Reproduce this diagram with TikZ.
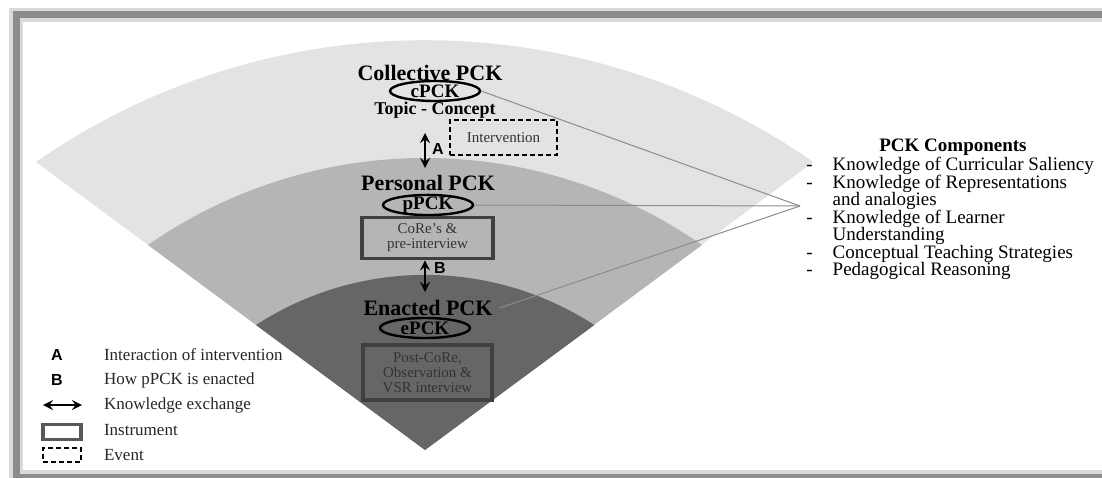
\documentclass[tikz,border=0pt]{standalone}
\usepackage{fontspec}
\setmainfont{Liberation Serif}
\setsansfont{Liberation Sans}
\usetikzlibrary{positioning, calc, arrows.meta, shapes.geometric}

\begin{document}
\begin{tikzpicture}[x=0.5pt, y=0.5pt, >=stealth,
    title/.style={font=\fontsize{11}{12}\selectfont\bfseries},
    kind/.style={ellipse, draw, line width=1.2pt, inner xsep=0pt, inner ysep=-0.6pt,
        minimum width=45pt, minimum height=10pt, font=\fontsize{9.5}{10}\selectfont\bfseries},
    instr/.style={draw=black!75, line width=1.6pt, align=center, text=black!80,
        font=\fontsize{7.5}{7.5}\selectfont},
    event/.style={draw, line width=1.3pt, dash pattern=on 2.5pt off 1.5pt, text=black!80,
        font=\fontsize{7.5}{8}\selectfont},
    xchg/.style={<->, line width=1.2pt},
    conn/.style={black!45, line width=0.5pt},
    tag/.style={font=\sffamily\bfseries\fontsize{8}{9}\selectfont},
    key/.style={anchor=west, text=black!85, font=\fontsize{8.5}{9}\selectfont}]

    % --- Frame ---
    \useasboundingbox (0,0) rectangle (1102,477);
    \draw[black!15, line width=7pt] (1110,462) -- (16,462) -- (16,0) -- (1110,0);
    \draw[black!45, line width=3.5pt] (1110,462) -- (16,462) -- (16,0) -- (1110,0);

    % --- Layers of the fan ---
    \coordinate (apex) at (425,27);
    \fill[black!11] (36,315) arc[start angle=124.8, end angle=55.2, radius=681] -- (apex) -- cycle;
    \fill[black!29] (148,232) arc[start angle=124.87, end angle=55.13, radius=484.5] -- (apex) -- cycle;
    \fill[black!60] (256,152) arc[start angle=123, end angle=57, radius=310.6] -- (apex) -- cycle;

    % --- Collective PCK ---
    \node[title] (coll) at (430,404) {Collective PCK};
    \node[kind] (cpck) at (435,386) {cPCK};
    \node[font=\fontsize{9}{10}\selectfont\bfseries] (topic) at (435,367) {Topic - Concept};
    \node[event, minimum width=53.5pt, minimum height=17.5pt] (interv) at (503.5,339.5) {Intervention};

    % A: collective <-> personal
    \coordinate (aTop) at (425,344);
    \coordinate (aBot) at (425,309);
    \draw[xchg] (aTop) -- (aBot);
    \node[tag] (tagA) at (438,328) {A};

    % --- Personal PCK ---
    \node[title] (pers) at (428,294) {Personal PCK};
    \node[kind] (ppck) at (428,272) {pPCK};
    \node[instr, minimum width=65.5pt, minimum height=18pt] (core) at (427.5,239) {CoRe's \&\\pre-interview};

    % B: personal <-> enacted
    \coordinate (bBot) at (425,185);
    \draw[xchg] (core.south -| bBot) -- (bBot);
    \node[tag] (tagB) at (440,209) {B};

    % --- Enacted PCK ---
    \node[title] (enac) at (428,169) {Enacted PCK};
    \node[kind] (epck) at (425,149) {ePCK};
    \node[instr, minimum width=64.5pt, minimum height=27.5pt] (post) at (427.5,104.5)
        {Post-CoRe,\\Observation \&\\VSR interview};

    % --- Lines to the components ---
    \coordinate (hub) at (800,271);
    \draw[conn] (cpck.east) -- (hub);
    \draw[conn] (ppck.east) -- (hub);
    \draw[conn] (enac.east) -- (hub);

    % --- PCK Components ---
    \node[font=\fontsize{9.5}{10}\selectfont\bfseries] (comptitle) at (953,330) {PCK Components};
    \node[anchor=north west, inner sep=0pt, font=\fontsize{9.5}{7}\selectfont] (complist) at (806,320) {%
        \begin{tabular}{@{}l@{\hspace{10pt}}l@{}}
        - & Knowledge of Curricular Saliency\\
        - & Knowledge of Representations\\
          & and analogies\\
        - & Knowledge of Learner\\
          & Understanding\\
        - & Conceptual Teaching Strategies\\
        - & Pedagogical Reasoning
        \end{tabular}};

    % --- Legend ---
    \node[tag] (keyA) at (57,122) {A};
    \node[key] (txtA) at (97,122) {Interaction of intervention};
    \node[tag] (keyB) at (57,97) {B};
    \node[key] (txtB) at (97,97) {How pPCK is enacted};
    \coordinate (xL) at (43,72);
    \coordinate (xR) at (82,72);
    \draw[xchg] (xL) -- (xR);
    \node[key] (txtX) at (97,72) {Knowledge exchange};
    \node[instr, draw=black!65, minimum width=19pt, minimum height=7.5pt] (keyI) at (62,45) {};
    \node[key] (txtI) at (97,47) {Instrument};
    \node[event, minimum width=19pt, minimum height=7pt] (keyE) at (62,22) {};
    \node[key] (txtE) at (97,22) {Event};

\end{tikzpicture}
\end{document}
